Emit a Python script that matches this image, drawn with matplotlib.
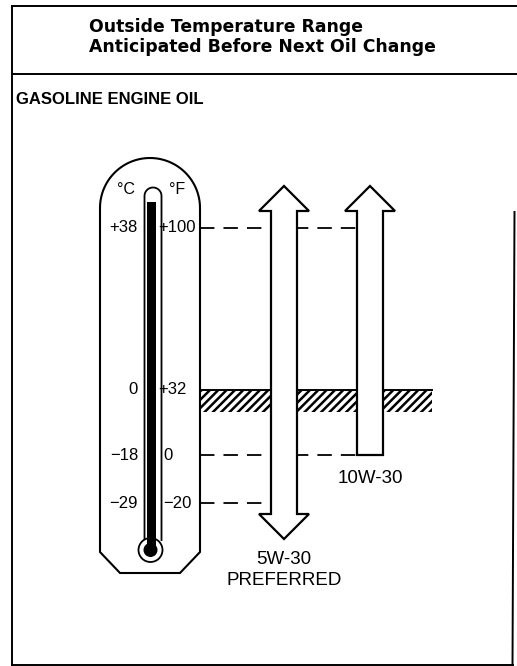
import numpy as np
import matplotlib.pyplot as plt
import matplotlib.transforms as mtransforms
from matplotlib.patches import Polygon, Circle

plt.rcParams['font.family'] = ['Liberation Sans', 'DejaVu Sans']
plt.rcParams['hatch.linewidth'] = 1.8

W, H = 517, 666

# thermometer graduations
temp_f = [100, 32, 0, -20]
temp_c = [38, 0, -18, -29]
label_f = ['+100', '+32', '0', '\u221220']
label_c = ['+38', '0', '\u221218', '\u221229']

# oils: lowest outside temperature covered (°F), all open upward
oil_names = ['5W-30\nPREFERRED', '10W-30']
oil_low_f = [-20, 0]
oil_open_bottom = [True, False]

freeze_f = 32

# the sketch is not to scale: pixel row of each graduation (from top)
knot_f = np.array(sorted(temp_f), float)
knot_px = np.array([503, 455, 390, 228], float)


def _lin(x, xp, fp):
    x = np.asarray(x, float)
    y = np.interp(x, xp, fp)
    lo = (fp[1] - fp[0]) / (xp[1] - xp[0])
    hi = (fp[-1] - fp[-2]) / (xp[-1] - xp[-2])
    y = np.where(x < xp[0], fp[0] + (x - xp[0]) * lo, y)
    y = np.where(x > xp[-1], fp[-1] + (x - xp[-1]) * hi, y)
    return y


def f_to_s(f):
    return _lin(f, knot_f, -knot_px)


def s_to_f(s):
    return _lin(s, -knot_px, knot_f)


fig = plt.figure(figsize=(W / 100, H / 100), dpi=100)
ax = fig.add_axes([0, 0, 1, 1])
ax.set_xlim(0, W)
ax.set_yscale('function', functions=(f_to_s, s_to_f))
ax.set_ylim(float(s_to_f(-H)), float(s_to_f(0)))
ax.axis('off')

# pixel transform (x right, y down) for the frame and drawing
px = mtransforms.Affine2D().scale(1 / W, -1 / H).translate(0, 1) + fig.transFigure

# frame
for xs, ys in [([12, W], [6, 6]), ([12, W], [74, 74]), ([12, 12], [6, 665]),
               ([12, 513], [665, 665]), ([514.5, 512.5], [212, 665])]:
    ax.plot(xs, ys, color='k', lw=1.4, transform=px, clip_on=False)

ax.text(89, 32, 'Outside Temperature Range', transform=px, fontsize=12.4,
        fontweight='bold', va='baseline', ha='left', family='DejaVu Sans')
ax.text(89, 52.5, 'Anticipated Before Next Oil Change', transform=px, fontsize=12.4,
        fontweight='bold', va='baseline', ha='left', family='DejaVu Sans')
ax.text(16, 100, 'GASOLINE ENGINE OIL', transform=px, fontsize=12,
        fontweight='bold', va='center', ha='left')

# thermometer body
t = np.linspace(np.pi, 0, 60)
body = [(100, 552)] + list(zip(150 + 50 * np.cos(t), 208 - 50 * np.sin(t))) + \
       [(200, 552), (180, 573), (120, 573), (100, 552)]
ax.add_patch(Polygon(body, closed=True, fc='white', ec='k', lw=1.5,
                     transform=px, zorder=1))
# tube, bulb and mercury
t2 = np.linspace(np.pi, 0, 30)
tube = [(144.5, 540)] + list(zip(153 + 8.5 * np.cos(t2), 196 - 8.5 * np.sin(t2))) + [(161.5, 540)]
ax.plot(*zip(*tube), color='k', lw=1.3, transform=px, zorder=2)
ax.add_patch(Circle((150.5, 550), 12, fc='white', ec='k', lw=1.3, transform=px, zorder=2))
ax.add_patch(plt.Rectangle((146.5, 202), 9.5, 345, fc='k', ec='none', transform=px, zorder=3))
ax.add_patch(Circle((150.5, 550), 7, fc='k', ec='none', transform=px, zorder=3))

ax.text(126, 190, '\u00b0C', transform=px, fontsize=11.5, ha='center', va='center')
ax.text(177, 190, '\u00b0F', transform=px, fontsize=11.5, ha='center', va='center')
for tf, lc, lf in zip(temp_f, label_c, label_f):
    ax.text(138, tf, lc, fontsize=12, ha='right', va='center', zorder=4)
    ax.text(158 if lf.startswith('+') else 163, tf, lf, fontsize=12,
            ha='left', va='center', zorder=4)

# freezing band
therm_right = 200
ax.fill_between([therm_right, 432], freeze_f - 11, freeze_f, facecolor='white',
                edgecolor='k', hatch='////', lw=0, zorder=0.5)
ax.plot([therm_right, 432], [freeze_f, freeze_f], color='k', lw=1.4, zorder=0.6)

# arrows
arrow_x = [284, 370]
shaft_w, head_w, head_len = 26, 50, 25
over_top, over_bot = 17, 11

# dashed guides from the thermometer
for tg in [temp_f[0]] + oil_low_f:
    cover = [i for i, lo in enumerate(oil_low_f) if lo <= tg]
    x_end = arrow_x[max(cover)] - shaft_w / 2
    ax.plot([therm_right, x_end], [tg, tg], color='k', lw=1.3,
            ls=(0, (8, 5)), zorder=0.7)

for cx, lo, ob, name in zip(arrow_x, oil_low_f, oil_open_bottom, oil_names):
    s_top = float(f_to_s(temp_f[0])) + over_top
    s_tip = s_top + head_len
    xl, xr = cx - shaft_w / 2, cx + shaft_w / 2
    hl, hr = cx - head_w / 2, cx + head_w / 2
    pts = [(xl, s_top), (hl, s_top), (cx, s_tip), (hr, s_top), (xr, s_top)]
    if ob:
        s_bot = float(f_to_s(lo)) - over_bot
        pts += [(xr, s_bot), (hr, s_bot), (cx, s_bot - head_len), (hl, s_bot), (xl, s_bot)]
        s_lab = s_bot - head_len - 12
    else:
        s_bot = float(f_to_s(lo))
        pts += [(xr, s_bot), (xl, s_bot)]
        s_lab = s_bot - 15
    pts = [(x, float(s_to_f(s))) for x, s in pts]
    ax.add_patch(Polygon(pts, closed=True, fc='white', ec='k', lw=1.6,
                         joinstyle='miter', zorder=2))
    ax.text(cx, float(s_to_f(s_lab)), name, fontsize=13.5, ha='center', va='top',
            linespacing=1.3)

fig.savefig('out.png', dpi=100)
